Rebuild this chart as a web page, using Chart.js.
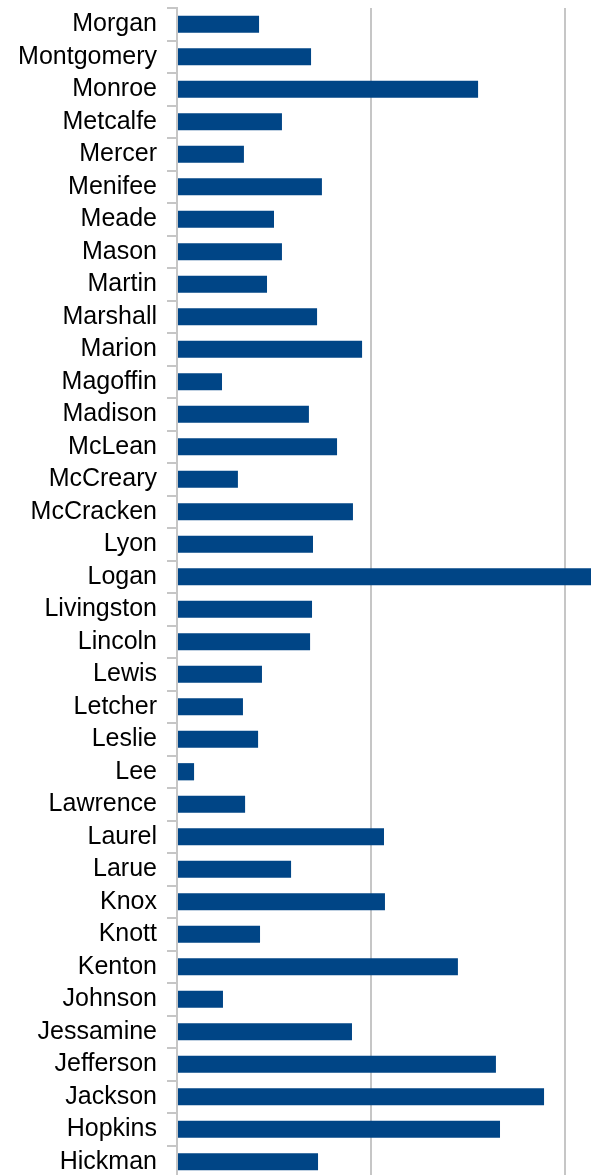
<html>
   <head>
      <script src="https://cdn.jsdelivr.net/npm/chart.js@4.4.0/dist/chart.umd.min.js"></script>
   </head>
   <style>
      html,
      body {
         margin: 0;
         background: #fff;
      }

      .wrapper {
         width: 591px;
         height: 1175px;
         overflow: hidden;
         position: relative;
      }

      .graph {
         position: absolute;
         left: 0;
         top: -17px;
         width: 780px;
         height: 1220px;
      }
   </style>

   <body>
      <div class="wrapper">
         <div class="graph">
            <canvas id="myChart" width="780" height="1220"></canvas>
         </div>
      </div>
   </body>
   <script>
      // counties, top to bottom
      const counties = [
         "Morgan", "Montgomery", "Monroe", "Metcalfe", "Mercer", "Menifee",
         "Meade", "Mason", "Martin", "Marshall", "Marion", "Magoffin",
         "Madison", "McLean", "McCreary", "McCracken", "Lyon", "Logan",
         "Livingston", "Lincoln", "Lewis", "Letcher", "Leslie", "Lee",
         "Lawrence", "Laurel", "Larue", "Knox", "Knott", "Kenton",
         "Johnson", "Jessamine", "Jefferson", "Jackson", "Hopkins", "Hickman",
      ];

      // values (gridlines are at 10 and 20)
      const values = [
         4.23, 6.91, 15.52, 5.41, 3.45, 7.47,
         5.0, 5.41, 4.64, 7.22, 9.54, 2.32,
         6.8, 8.25, 3.14, 9.07, 7.01, 24.0,
         6.96, 6.86, 4.38, 3.4, 4.18, 0.88,
         3.51, 10.67, 5.88, 10.72, 4.28, 14.48,
         2.37, 9.02, 16.44, 18.92, 16.65, 7.27,
      ];

      const xTicks = [0, 10, 20, 30];

      const gridGrey = "#c6c6c6";

      const config = {
         type: "bar",
         data: {
            labels: counties,
            datasets: [
               {
                  data: values,
                  backgroundColor: "#004586",
                  borderWidth: 0,
                  categoryPercentage: 1,
                  barPercentage: 0.53,
               },
            ],
         },
         options: {
            indexAxis: "y",
            responsive: false,
            animation: false,
            layout: {
               padding: { top: 6, bottom: 22, left: 0, right: 21 },
            },
            plugins: {
               legend: { display: false },
               tooltip: { enabled: false },
            },
            scales: {
               x: {
                  min: xTicks[0],
                  max: xTicks[xTicks.length - 1],
                  ticks: { display: false, stepSize: 10 },
                  grid: { color: gridGrey, lineWidth: 2, drawTicks: false },
                  border: { display: false },
               },
               y: {
                  afterFit: (s) => {
                     s.width = 177;
                  },
                  ticks: {
                     color: "#000",
                     padding: 10,
                     autoSkip: false,
                     font: { family: "Liberation Sans", size: 25 },
                  },
                  grid: {
                     drawOnChartArea: false,
                     tickLength: 10,
                     color: gridGrey,
                     lineWidth: 2,
                  },
                  border: { color: gridGrey, width: 2 },
               },
            },
         },
      };

      const myChart = new Chart(document.getElementById("myChart"), config);
   </script>
</html>
